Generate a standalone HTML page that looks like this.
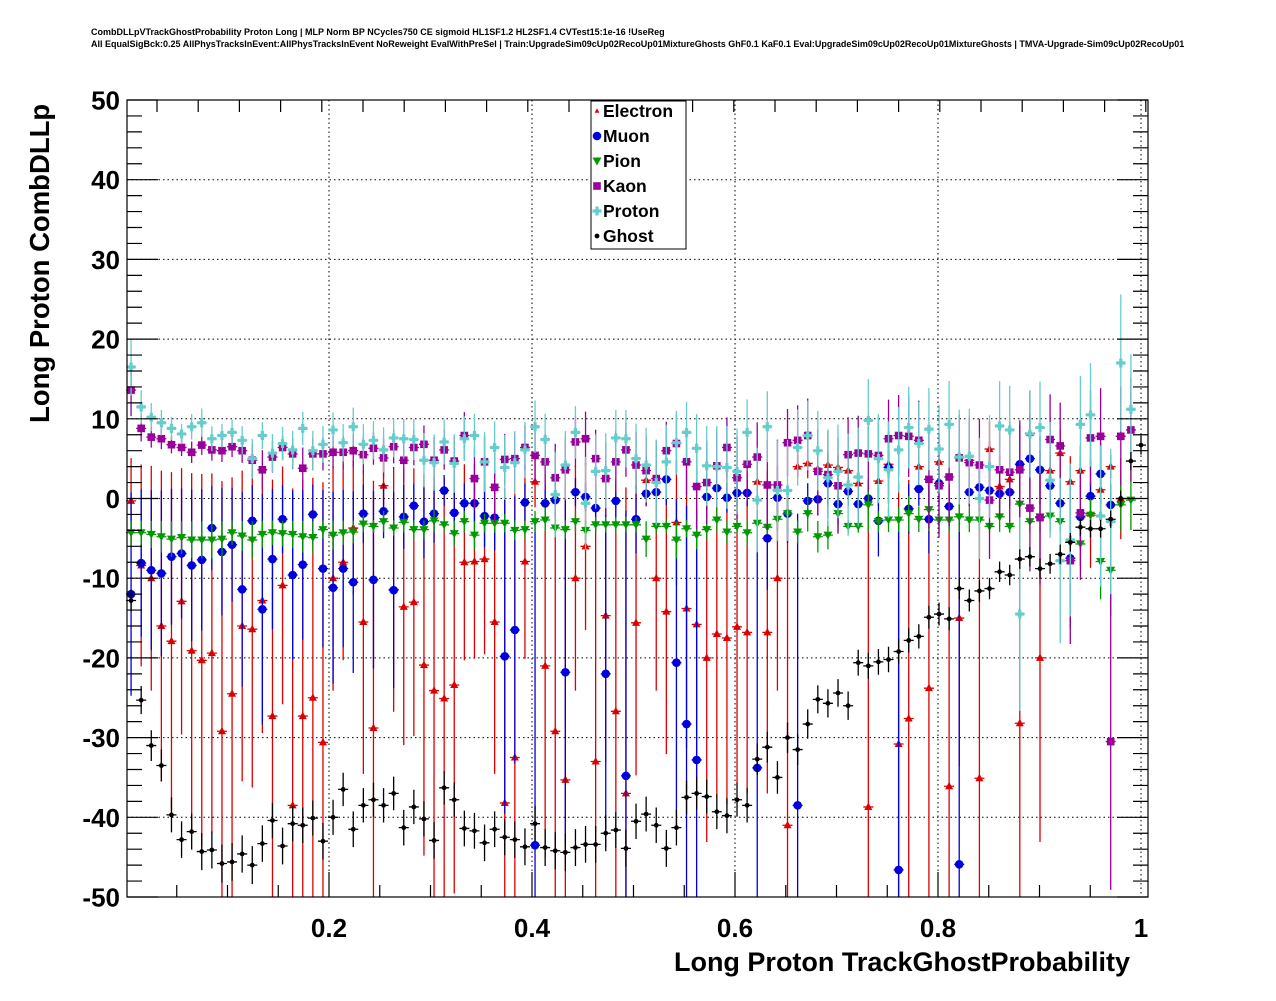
<!DOCTYPE html>
<html><head><meta charset="utf-8"><style>
body{margin:0;background:#fff;}
svg text{font-family:"Liberation Sans",sans-serif;font-weight:bold;}
</style></head><body>
<svg id="chart" width="1276" height="996" viewBox="0 0 1276 996" xmlns="http://www.w3.org/2000/svg">
<rect x="0" y="0" width="1276" height="996" fill="#fff"/>
<text x="91" y="35" font-size="9">CombDLLpVTrackGhostProbability Proton Long | MLP Norm BP NCycles750 CE sigmoid HL1SF1.2 HL2SF1.4 CVTest15:1e-16 !UseReg</text>
<text x="91" y="47" font-size="9">All EqualSigBck:0.25 AllPhysTracksInEvent:AllPhysTracksInEvent NoReweight EvalWithPreSel | Train:UpgradeSim09cUp02RecoUp01MixtureGhosts GhF0.1 KaF0.1 Eval:UpgradeSim09cUp02RecoUp01MixtureGhosts | TMVA-Upgrade-Sim09cUp02RecoUp01</text>
<g id="grid"></g>
<g id="marks"></g>
<rect x="127" y="100" width="1021" height="797" fill="none" stroke="#000" stroke-width="1.2"/>
<g id="axes"></g>
<text x="1130" y="971" font-size="27" text-anchor="end">Long Proton TrackGhostProbability</text>
<text transform="translate(49,423) rotate(-90)" font-size="27.5">Long Proton CombDLLp</text>
<g id="legend">
<rect x="591" y="101" width="95" height="148" fill="#fff" stroke="#000" stroke-width="1"/>
</g>
</svg>
<script>
const electron=[-0.3,-8.4,-10,-16,-17.9,-12.9,-19.1,-20.3,-19.4,-29.2,-24.5,-16,-16.4,-12.8,-27.3,-10.9,-38.5,-27.3,-25,-30.6,-10,-8,-3.7,-15.5,-28.8,1.6,-11.4,-13.6,-13,-20.9,-24.1,-25.1,-23.4,-8,-7.9,-7.6,-15.5,-38.2,-32.5,-7.9,2.1,-21,-29.2,-35.3,-10,-6,-33,-14.7,-26.7,-37,-15.6,2.3,-10,-14.2,-3,-13.8,-15.8,-20,-17,-17.5,-16.1,-16.8,2.1,-16.8,-10,-41,4.0,4.4,3.7,4.2,3.9,3.5,1.9,-38.7,2.2,4.3,-30.8,-27.6,4.0,-23.8,4.6,-36.1,-15,4.8,-35.1,6.2,1.5,2.4,-28.2,8.2,-20,3.5,5.7,2.1,3.5,-1.9,1.1,4.0,0];
const muon=[-12,-8.1,-9,-9.4,-7.3,-6.9,-8.4,-7.7,-3.7,-6.7,-5.8,-11.4,-2.8,-13.9,-7.6,-2.6,-9.6,-8.3,-2,-8.8,-11.2,-8.8,-10.5,-1.9,-10.2,-1.6,-11.5,-2.3,-0.9,-2.9,-1.9,1,-1.8,-0.6,-0.6,-2.2,-2.4,-19.8,-16.5,-0.5,-43.5,-0.6,-0.2,-21.8,0.8,0.2,-1.2,-22,-0.3,-34.8,-2.6,0.6,0.8,2.4,-20.6,-28.3,-32.8,0.2,1.3,0.1,0.7,0.7,-33.8,-5,0.1,-1.9,-38.5,-0.3,-0.1,1.9,-0.7,0.9,-0.7,0,-2.8,3.9,-46.6,-1.3,1.2,-2.6,1.9,-1,-45.9,0.8,1.4,1,0.6,0.8,4.3,5,3.6,1.6,-0.6,-7.5,-2.3,0.3,3.1,-0.8];
const pion=[-4.3,-4.3,-4.5,-4.8,-5.1,-4.9,-5.2,-5.2,-5.2,-5.1,-4.3,-4.7,-5.2,-4.5,-4.3,-4.4,-4.5,-4.8,-4.9,-3.9,-4.6,-4.3,-4.2,-3.2,-3.5,-2.9,-3.7,-3,-3.9,-3.9,-2.8,-3.3,-4.4,-2.9,-4.6,-3.1,-3.1,-3.1,-4,-3.9,-2.9,-2.7,-3.7,-3.9,-2.9,-4,-3.3,-3.3,-3.3,-3.3,-3.3,-5.1,-3.5,-3.5,-5.2,-3.8,-4.6,-3.9,-2.7,-4.2,-3.5,-4.3,-3.1,-3.6,-2.6,-1.9,-4.2,-1.9,-4.8,-4.6,-1.9,-3.5,-3.5,-0.8,-2.9,-2.7,-2.7,-1.9,-2.6,-1.4,-2.7,-2.7,-2.3,-2.7,-2.7,-3.5,-2.3,-3.5,-0.7,-2.9,-2.3,-2.2,-2.9,-5.5,-5.7,-2.1,-7.9,-9,-0.8,-0.2];
const kaon=[13.6,8.8,7.7,7.5,6.75,6.4,5.8,6.7,6.1,6,6.5,6,4.8,3.6,5.2,6.4,5.6,3.8,5.6,5.6,5.8,5.8,6,5.5,6.3,5.1,6.5,4.8,6.4,6.8,4.8,6.1,4.7,7.9,2.5,4.6,1.4,4.9,5,6.4,5.4,4.6,2.6,3.6,7.1,7.5,5,2.5,4.6,6.1,4.2,3.5,2.5,6,6.9,4.6,1.5,2,4.1,6.4,2.6,4.3,5.2,1.7,1.7,7,7.3,7.9,3.4,3,1.6,5.5,5.7,5.6,5.4,7.5,7.9,7.8,7.3,2.4,1.6,2.7,5.1,4.5,4.2,-0.2,3.6,3.3,3.6,-1.2,-2.4,7.4,6.6,-7.8,-1.8,7.6,7.8,-30.5,7.8,8.6];
const proton=[16.5,11.5,10.2,9.5,8.8,8.1,9,9.5,7.5,7.9,8.3,7.3,5,7.9,5.7,6.9,6.1,8.8,6,6.8,8.6,7,9,6.8,7.3,6.1,7.6,7.5,7.4,4.8,4.5,7.1,4.4,7.5,7.9,4.6,6.4,3.9,4.5,6.1,9,7.4,0.5,4.2,8.3,-0.6,3.4,3.5,7.6,7.5,5,4.2,2,4.6,7,8.3,6.3,4.1,4,3.9,3.4,8.3,-0.2,9,1,1,6.4,7.9,6,2.6,3.4,1.7,2.7,9.8,5,3.6,6.1,8.9,6.9,8.7,6.2,9.3,5.2,5.3,0,4,9.1,8.6,-14.5,8.1,8.9,2.3,-7.8,-5.2,9.3,10.5,-2.2,-2.9,17,11.2];
const ghost=[-12.8,-25.3,-31,-33.5,-39.7,-42.8,-41.8,-44.3,-44.1,-45.8,-45.6,-44.6,-46,-43.3,-40.4,-43.6,-40.8,-41,-40.1,-43,-40,-36.5,-41.5,-38.5,-37.8,-38.5,-37,-41.3,-38.7,-40.2,-42.9,-36.3,-37.8,-41.4,-41.7,-43.2,-41.5,-42.5,-42.8,-43.7,-40.8,-43.8,-44.2,-44.4,-43.8,-43.4,-43.4,-42,-41.6,-43.9,-40.5,-39.6,-41,-43.9,-41.3,-37.5,-37,-37.4,-39.3,-39.8,-37.8,-38.5,-32.7,-31.2,-35,-30,-31.5,-28.3,-25.2,-25.7,-24.4,-26,-20.6,-21,-20.5,-20.2,-19.2,-17.8,-17.3,-14.9,-14.5,-15.1,-11.3,-12.8,-11.6,-11.3,-9.2,-9.6,-7.6,-7.3,-8.8,-8.2,-7,-5.5,-3.6,-3.8,-3.8,-2.6,0,4.7,6.7];
const xTickLabels=["0.2","0.4","0.6","0.8","1"];
const yTickLabels=["50","40","30","20","10","0","-10","-20","-30","-40","-50"];
const legendNames=["Electron","Muon","Pion","Kaon","Proton","Ghost"];

const NS="http://www.w3.org/2000/svg";
const X0=126,XS=1015,Y0=498.5,YS=7.97;
function xs(v){return X0+XS*v;}
function ys(v){return Y0-YS*v;}
function binX(i){return 0.005+0.00995*i;}
function mk(tag,attrs,parent){const e=document.createElementNS(NS,tag);for(const k in attrs)e.setAttribute(k,attrs[k]);parent.appendChild(e);return e;}
const grid=document.getElementById('grid'),axes=document.getElementById('axes'),marks=document.getElementById('marks'),legend=document.getElementById('legend');
xTickLabels.forEach(function(t){const v=parseFloat(t);const px=xs(v);
 const g=mk('line',{x1:px,x2:px,y1:100,y2:897,stroke:'#000','stroke-width':1,'stroke-dasharray':'1.5,3'},grid);
 
 
 const tx=mk('text',{x:px,y:937,'font-size':26,'text-anchor':'middle'},axes);tx.textContent=t;
 
 
});
yTickLabels.forEach(function(t){const v=parseFloat(t);const py=ys(v);
 if(v>-50&&v<50){const g=mk('line',{x1:127,x2:1148,y1:py,y2:py,stroke:'#000','stroke-width':1,'stroke-dasharray':'1.5,3'},grid);
 
 }
 const tx=mk('text',{x:120,y:py+9.5,'font-size':26,'text-anchor':'end'},axes);tx.textContent=t;
 
 
});
let d='';
for(let v=-50;v<=50;v+=2){const py=ys(v);const L=(v%10===0)?31:15;d+='M127 '+py+'h'+L+'M1148 '+py+'h-'+L;}
for(let k=1;k<20;k++){const v=k*0.05;const px=xs(v);const L=(k%4===0)?25:12;d+='M'+px+' 897v-'+L;}
for(let k=0;k<25;k++){const px=157+41.2*k;if(px>1146)break;d+='M'+px+' 100v12';}
const tk=mk('path',{d:d,stroke:'#000','stroke-width':1.2,fill:'none'},axes);


const series=[
 {name:'electron',vals:electron,col:'#dd0000',typ:4,k:0.9,base:1.5,m:'tri'},
 {name:'muon',vals:muon,col:'#0000dd',typ:0.5,k:0.9,base:1.5,m:'circ'},
 {name:'pion',vals:pion,col:'#009900',typ:-3.5,k:0.9,base:0.8,m:'tdown'},
 {name:'kaon',vals:kaon,col:'#990099',typ:6.5,k:0.35,base:0.8,m:'sq'},
 {name:'proton',vals:proton,col:'#66cccc',typ:8,k:0.3,base:1.0,m:'cross'},
 {name:'ghost',vals:ghost,col:'#000000',typ:0,k:0,base:1.0,m:'star'}
];
function marker(type,cx,cy,col,parent){
 let e;
 if(type==='tri')e=mk('path',{d:'M'+cx+' '+(cy-4.5)+'L'+(cx+4)+' '+(cy+3)+'L'+(cx-4)+' '+(cy+3)+'Z',fill:col},parent);
 else if(type==='tdown')e=mk('path',{d:'M'+cx+' '+(cy+4.5)+'L'+(cx+4.5)+' '+(cy-3.5)+'L'+(cx-4.5)+' '+(cy-3.5)+'Z',fill:col},parent);
 else if(type==='circ')e=mk('circle',{cx:cx,cy:cy,r:4.3,fill:col},parent);
 else if(type==='sq')e=mk('rect',{x:cx-3.8,y:cy-3.8,width:7.6,height:7.6,fill:col},parent);
 else if(type==='cross')e=mk('path',{d:'M'+(cx-4.5)+' '+cy+'h9M'+cx+' '+(cy-4.5)+'v9',stroke:col,'stroke-width':3.2},parent);
 else e=mk('circle',{cx:cx,cy:cy,r:2.4,fill:col},parent);
 return e;
}
series.forEach(function(s){
 const g=mk('g',{},marks);
 
 
 s.vals.forEach(function(v,i){
  const cx=xs(binX(i)),cy=ys(v);
  let err=s.base+s.k*Math.abs(v-s.typ);
  if(s.name==='ghost')err=1.0+0.03*Math.abs(v);
  if(s.name==='proton'||s.name==='kaon')err+=0.05*i;
  const y1=Math.max(100,Math.min(897,ys(v+err))),y2=Math.max(100,Math.min(897,ys(v-err)));
  const eb=mk('path',{d:'M'+cx+' '+y1+'V'+y2+'M'+(cx-5)+' '+cy+'H'+(cx+5),stroke:s.col,'stroke-width':1.3,fill:'none'},g);
  
  
  const m=marker(s.m,cx,cy,s.col,g);
  
  
 });
});
legendNames.forEach(function(n,i){
 const y=111+25*i;const s=series[i];
 const g=mk('g',{},legend);
 
 
 const m=marker(s.m,597,y,s.col,g);
 if(s.m==='tri'){m.setAttribute('transform','translate(597,'+y+') scale(0.6) translate(-597,-'+y+')');}
 
 
 const t=mk('text',{x:603,y:y+6,'font-size':17.5},g);t.textContent=n;
 
 
});
</script>
</body></html>
